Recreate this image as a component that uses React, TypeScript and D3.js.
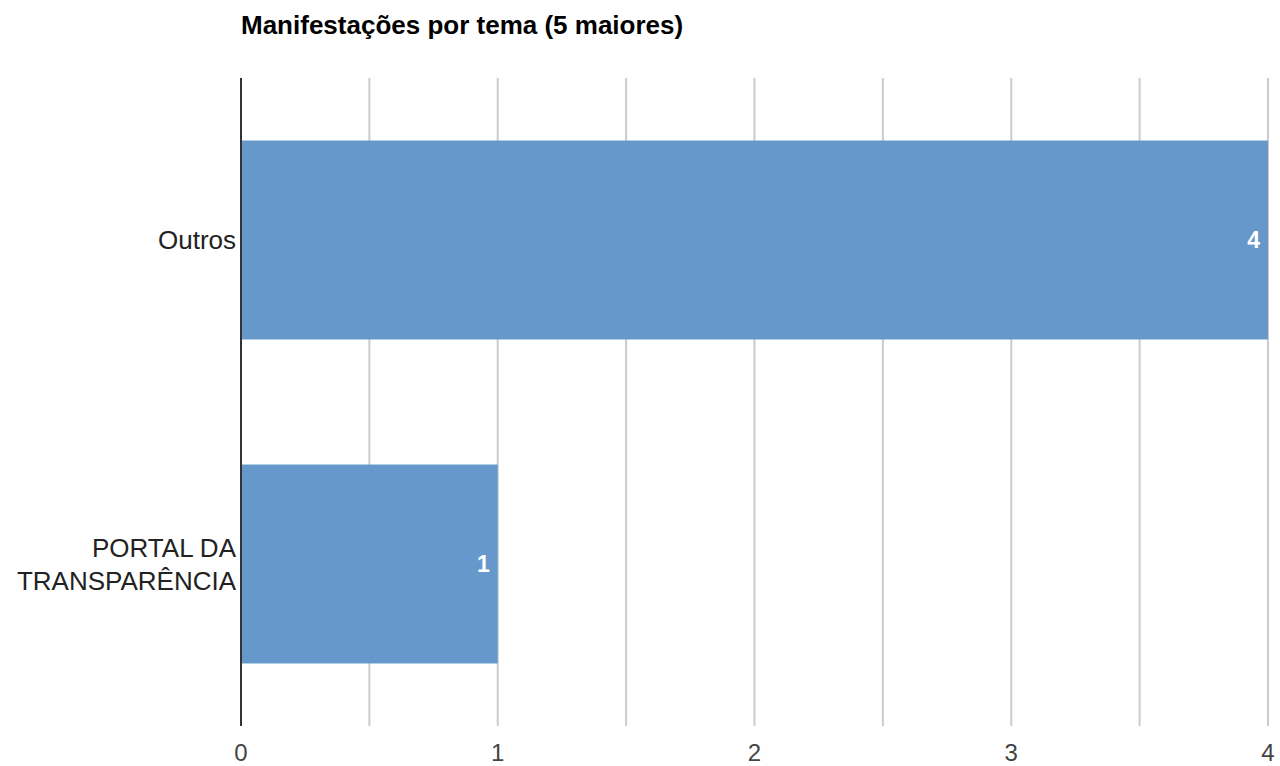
import React from 'react';
import * as d3 from 'd3';

const categories = ['Outros', 'PORTAL DA TRANSPARÊNCIA'];
const values = [4, 1];
const labelLines = [['Outros'], ['PORTAL DA', 'TRANSPARÊNCIA']];
const xTicks = [0, 1, 2, 3, 4];
const gridTicks = [0, 0.5, 1, 1.5, 2, 2.5, 3, 3.5, 4];
const title = 'Manifestações por tema (5 maiores)';

const W = 1280;
const H = 766;
const left = 241;
const right = 1268;
const top = 78;
const bottom = 726;

export default function App() {
  const x = d3.scaleLinear().domain([0, 4]).range([left, right]);
  const y = d3
    .scaleBand<string>()
    .domain(categories)
    .range([top, bottom])
    .paddingInner(0.386)
    .paddingOuter(0.193);

  return (
    <svg
      width={W}
      height={H}
      style={{ position: 'fixed', left: 0, top: 0, background: '#fff' }}
      fontFamily="'Liberation Sans', Arial, sans-serif"
    >
      <text x={241} y={34} fontSize={26} fontWeight="bold" fill="#000">
        {title}
      </text>

      {/* gridlines */}
      {gridTicks.map((t) => (
        <line
          key={t}
          x1={x(t)}
          x2={x(t)}
          y1={top}
          y2={bottom}
          stroke="#cccccc"
          strokeWidth={2}
        />
      ))}

      {/* bars */}
      {categories.map((c, i) => (
        <g key={c}>
          <rect
            x={x(0)}
            y={y(c)}
            width={x(values[i]) - x(0)}
            height={y.bandwidth()}
            fill="#6798cc"
          />
          <text
            x={x(values[i]) - 8}
            y={(y(c) ?? 0) + y.bandwidth() / 2 + 8}
            textAnchor="end"
            fontSize={23}
            fontWeight="bold"
            fill="#fff"
          >
            {values[i]}
          </text>
        </g>
      ))}

      {/* baseline */}
      <line x1={x(0)} x2={x(0)} y1={top} y2={bottom} stroke="#333" strokeWidth={2} />

      {/* category labels */}
      {categories.map((c, i) => {
        const lines = labelLines[i];
        const cy = (y(c) ?? 0) + y.bandwidth() / 2;
        const lh = 33;
        const start = cy - ((lines.length - 1) * lh) / 2;
        return (
          <text key={c} textAnchor="end" fontSize={26} fill="#222">
            {lines.map((l, j) => (
              <tspan key={j} x={236} y={start + j * lh + 9}>
                {l}
              </tspan>
            ))}
          </text>
        );
      })}

      {/* x tick labels */}
      {xTicks.map((t) => (
        <text
          key={t}
          x={x(t)}
          y={761}
          textAnchor="middle"
          fontSize={24}
          fill="#444"
        >
          {t}
        </text>
      ))}
    </svg>
  );
}
